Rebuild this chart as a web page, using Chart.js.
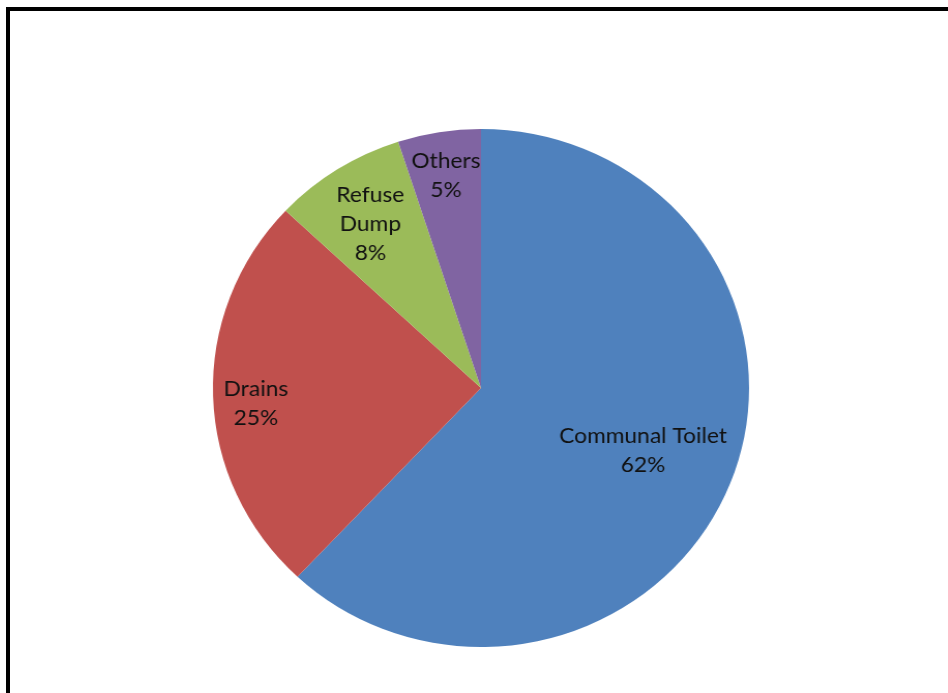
<!DOCTYPE html>
<html>
<head>
<meta charset="utf-8">
<script src="https://cdn.jsdelivr.net/npm/chart.js@4/dist/chart.umd.min.js"></script>
<style>
  html, body { margin: 0; padding: 0; background: #fff; overflow: hidden; }
  body { width: 948px; height: 693px; position: relative; }
  #frame {
    position: absolute; left: 6px; top: 7px;
    width: 1000px; height: 800px;
    border: 4px solid #000;
    box-sizing: border-box;
  }
  #wrap {
    position: absolute; left: 181px; top: 88px;
    width: 600px; height: 600px;
    transform: scaleX(1.035);
    transform-origin: 300px 300px;
  }
</style>
</head>
<body>
<div id="frame"></div>
<div id="wrap"><canvas id="myChart" width="600" height="600"></canvas></div>
<script>
var categories = ["Communal Toilet", "Drains", "Refuse Dump", "Others"];
var labelLines = [["Communal Toilet"], ["Drains"], ["Refuse", "Dump"], ["Others"]];
var percents = [62, 25, 8, 5];
var colors = ["#4F81BD", "#C0504D", "#9BBB59", "#8064A2"];

// writes "name / xx%" inside each slice
var sliceLabels = {
  id: "sliceLabels",
  afterDatasetsDraw: function (chart, args, opts) {
    var ctx = chart.ctx;
    var meta = chart.getDatasetMeta(0);
    ctx.save();
    ctx.font = opts.font;
    ctx.fillStyle = opts.color;
    ctx.textAlign = "center";
    ctx.textBaseline = "middle";
    meta.data.forEach(function (arc, i) {
      var p = arc.getProps(["x", "y", "startAngle", "endAngle", "outerRadius"], true);
      var mid = (p.startAngle + p.endAngle) / 2;
      var r = p.outerRadius * opts.radius[i];
      var cx = p.x + Math.cos(mid) * r;
      var cy = p.y + Math.sin(mid) * r + opts.nudge[i];
      var lines = labelLines[i].concat([chart.data.datasets[0].data[i] + "%"]);
      var top = cy - (lines.length - 1) * opts.lineHeight / 2;
      lines.forEach(function (t, k) {
        ctx.fillText(t, cx, top + k * opts.lineHeight);
      });
    });
    ctx.restore();
  }
};

var ctx = document.getElementById("myChart").getContext("2d");
var myChart = new Chart(ctx, {
  type: "pie",
  data: {
    labels: categories,
    datasets: [
      {
        data: percents,
        backgroundColor: colors,
        borderWidth: 0,
        radius: 259
      }
    ]
  },
  options: {
    responsive: false,
    animation: false,
    events: [],
    plugins: {
      legend: { display: false },
      tooltip: { enabled: false },
      sliceLabels: {
        font: "22px Lato",
        color: "#111",
        lineHeight: 29,
        radius: [0.65, 0.84, 0.77, 0.835],
        nudge: [0, 9, 4, 1]
      }
    }
  },
  plugins: [sliceLabels]
});
</script>
</body>
</html>
